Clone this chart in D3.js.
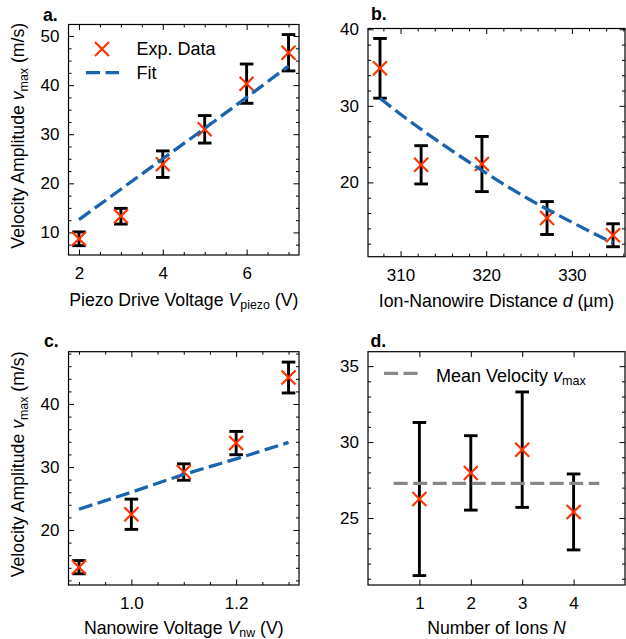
<!DOCTYPE html>
<html>
<head>
<meta charset="utf-8">
<script src="https://cdn.jsdelivr.net/npm/d3@7"></script>
<style>
  html, body { margin: 0; padding: 0; background: #fff; }
  svg { display: block; font-family: "Liberation Sans", Arial, Helvetica, sans-serif; }
</style>
</head>
<body>
<svg id="fig" width="626" height="639"></svg>
<script>
// ---- a. velocity vs piezo drive voltage ----
const piezoVoltage  = [2, 3, 4, 5, 6, 7];
const piezoVelocity = [8.7, 13.3, 23.9, 31.0, 40.3, 46.6];
const piezoError    = [1.4, 1.6, 2.7, 2.8, 4.0, 3.7];
const piezoFitX     = [2, 3, 4, 5, 6, 7];
const piezoFitV     = [12.6, 18.8, 25.0, 31.2, 37.5, 43.9];
const piezoXTicks   = [2, 4, 6];
const piezoYTicks   = [10, 20, 30, 40, 50];

// ---- b. velocity vs ion-nanowire distance ----
const distance      = [307.6, 312.4, 319.5, 327.1, 334.8];
const distVelocity  = [34.9, 22.3, 22.4, 15.35, 13.1];
const distError     = [3.9, 2.5, 3.6, 2.15, 1.5];
const distFitX      = [307.6, 310, 315, 320, 325, 330, 334.8];
const distFitV      = [31.0, 28.9, 24.9, 21.2, 17.8, 14.8, 12.1];
const distXTicks    = [310, 320, 330];
const distYTicks    = [20, 30, 40];

// ---- c. velocity vs nanowire voltage ----
const nwVoltage     = [0.9, 1.0, 1.1, 1.2, 1.3];
const nwVelocity    = [14.1, 22.5, 29.2, 33.8, 44.2];
const nwError       = [1.05, 2.4, 1.3, 1.85, 2.45];
const nwFitX        = [0.9, 1.0, 1.1, 1.2, 1.3];
const nwFitV        = [23.3, 26.0, 28.8, 31.3, 33.9];
const nwXTicks      = [1.0, 1.2];
const nwYTicks      = [20, 30, 40];

// ---- d. velocity vs number of ions ----
const ionCount      = [1, 2, 3, 4];
const ionVelocity   = [26.25, 27.97, 29.5, 25.4];
const ionError      = [5.04, 2.45, 3.8, 2.5];
const ionMeanSpan   = [0.5, 4.5];
const ionXTicks     = [1, 2, 3, 4];
const ionYTicks     = [25, 30, 35];

const RED = "#ff3300", BLUE = "#1a63ad", GREY = "#888888";
const TICK_FONT = 17, LABEL_FONT = 17.7, LEGEND_FONT = 18;
const MAJ = 5.5, MIN = 3, CROSS = 7;
const crossPath = `M${-CROSS},${-CROSS}L${CROSS},${CROSS}M${-CROSS},${CROSS}L${CROSS},${-CROSS}`;

const svg = d3.select("#fig");

function minorValues(domain, step) {
  const start = Math.ceil(domain[0] / step - 1e-9) * step;
  return d3.range(start, domain[1] + 1e-9, step).map(v => +v.toFixed(6));
}

// Writes "<before> <italic symbol>_<sub> <after>" into a text element.
function symbolLabel(sel, size, before, symbol, sub, after) {
  sel.append("tspan").text(before);
  sel.append("tspan").attr("font-style", "italic").text(symbol);
  if (sub) sel.append("tspan").attr("font-size", size * 0.7).attr("dy", 3.5).text(sub);
  if (after) sel.append("tspan").attr("dy", sub ? -3.5 : 0).text(after);
}

function panel(p) {
  const g = svg.append("g");
  const x = d3.scaleLinear().domain(p.xDomain).range([p.left, p.right]);
  const y = d3.scaleLinear().domain(p.yDomain).range([p.bottom, p.top]);

  const specs = [
    { axis: d3.axisBottom(x), t: `translate(0,${p.bottom})`, major: p.xTicks, minor: p.xMinor, fmt: p.xFmt, pad: 12 },
    { axis: d3.axisTop(x),    t: `translate(0,${p.top})`,    major: p.xTicks, minor: p.xMinor, fmt: null },
    { axis: d3.axisLeft(y),   t: `translate(${p.left},0)`,   major: p.yTicks, minor: p.yMinor, fmt: d3.format("d"), pad: 9 },
    { axis: d3.axisRight(y),  t: `translate(${p.right},0)`,  major: p.yTicks, minor: p.yMinor, fmt: null }
  ];
  specs.forEach(s => {
    if (s.minor) {
      const mg = g.append("g").attr("transform", s.t)
        .call(s.axis.tickValues(s.minor).tickSize(-MIN).tickFormat(() => ""));
      mg.select(".domain").remove();
      mg.selectAll("line").attr("stroke", "#000").attr("stroke-width", 1);
    }
    const ag = g.append("g").attr("transform", s.t)
      .call(s.axis.tickValues(s.major).tickSize(-MAJ)
        .tickPadding(s.pad || 3).tickFormat(s.fmt ? s.fmt : () => ""));
    ag.select(".domain").remove();
    ag.attr("font-size", TICK_FONT).attr("font-family", null);
    ag.selectAll("line").attr("stroke", "#000").attr("stroke-width", 1);
    ag.selectAll("text").attr("fill", "#000");
  });

  // axes frame
  g.append("rect")
    .attr("x", p.left).attr("y", p.top)
    .attr("width", p.right - p.left).attr("height", p.bottom - p.top)
    .attr("fill", "none").attr("stroke", "#000").attr("stroke-width", 1.2);

  // error bars
  const eb = g.append("g").attr("stroke", "#000").attr("stroke-width", 2.9).attr("fill", "none");
  p.xs.forEach((xv, i) => {
    const cx = x(xv), lo = y(p.vs[i] - p.es[i]), hi = y(p.vs[i] + p.es[i]);
    eb.append("line").attr("x1", cx).attr("x2", cx).attr("y1", lo).attr("y2", hi);
    eb.append("line").attr("x1", cx - 6.8).attr("x2", cx + 6.8).attr("y1", lo).attr("y2", lo);
    eb.append("line").attr("x1", cx - 6.8).attr("x2", cx + 6.8).attr("y1", hi).attr("y2", hi);
  });

  // data markers
  g.append("g").selectAll("path").data(p.xs).join("path")
    .attr("transform", (d, i) => `translate(${x(d)},${y(p.vs[i])})`)
    .attr("d", crossPath)
    .attr("stroke", RED).attr("stroke-width", 2.2).attr("fill", "none");

  // fit / reference line
  if (p.fitX) {
    g.append("path")
      .datum(p.fitX.map((xv, i) => [xv, p.fitV[i]]))
      .attr("d", d3.line().x(d => x(d[0])).y(d => y(d[1])).curve(d3.curveMonotoneX))
      .attr("fill", "none").attr("stroke", p.fitColor).attr("stroke-width", 3.3)
      .attr("stroke-dasharray", "14,5.5");
  }

  // panel letter
  g.append("text").attr("x", p.letterPos[0]).attr("y", p.letterPos[1])
    .attr("font-size", LABEL_FONT).attr("font-weight", "bold").text(p.letter);

  // x label
  const xl = g.append("text")
    .attr("x", (p.left + p.right) / 2).attr("y", p.xLabelY)
    .attr("text-anchor", "middle").attr("font-size", LABEL_FONT);
  symbolLabel(xl, LABEL_FONT, ...p.xLabel);

  // y label
  if (p.yLabel) {
    const yl = g.append("text")
      .attr("transform", `translate(24,${(p.top + p.bottom) / 2 - 4}) rotate(-90)`)
      .attr("text-anchor", "middle").attr("font-size", LABEL_FONT);
    symbolLabel(yl, LABEL_FONT, "Velocity Amplitude ", "v", "max", " (m/s)");
  }
  return { g, x, y };
}

// a.
const pa = panel({
  left: 68.5, right: 299, top: 24.5, bottom: 255,
  xDomain: [1.75, 7.25], yDomain: [5.4, 52.35],
  xTicks: piezoXTicks, xMinor: minorValues([1.75, 7.25], 0.5).filter(v => !piezoXTicks.includes(v)),
  yTicks: piezoYTicks, yMinor: minorValues([5.4, 52.35], 2.5).filter(v => !piezoYTicks.includes(v)),
  xFmt: d3.format("d"),
  xs: piezoVoltage, vs: piezoVelocity, es: piezoError,
  fitX: piezoFitX, fitV: piezoFitV, fitColor: BLUE,
  letter: "a.", letterPos: [43, 20.5],
  xLabelY: 305.5,
  xLabel: ["Piezo Drive Voltage ", "V", "piezo", " (V)"],
  yLabel: true
});

// legend for a.
{
  const lg = pa.g.append("g");
  lg.append("path").attr("transform", "translate(102,49)")
    .attr("d", crossPath)
    .attr("stroke", RED).attr("stroke-width", 2.2).attr("fill", "none");
  lg.append("text").attr("x", 136.5).attr("y", 54.5).attr("font-size", LEGEND_FONT).text("Exp. Data");
  lg.append("line").attr("x1", 86).attr("x2", 119).attr("y1", 72.7).attr("y2", 72.7)
    .attr("stroke", BLUE).attr("stroke-width", 3.3).attr("stroke-dasharray", "14,5.5");
  lg.append("text").attr("x", 136.5).attr("y", 78.7).attr("font-size", LEGEND_FONT).text("Fit");
}

// b.
panel({
  left: 368, right: 625, top: 28.5, bottom: 256.7,
  xDomain: [306.2, 336.2], yDomain: [10.3, 40.1],
  xTicks: distXTicks, xMinor: minorValues([306.2, 336.2], 2).filter(v => !distXTicks.includes(v)),
  yTicks: distYTicks, yMinor: minorValues([10.3, 40.1], 2).filter(v => !distYTicks.includes(v)),
  xFmt: d3.format("d"),
  xs: distance, vs: distVelocity, es: distError,
  fitX: distFitX, fitV: distFitV, fitColor: BLUE,
  letter: "b.", letterPos: [371, 20],
  xLabelY: 306.5,
  xLabel: ["Ion-Nanowire Distance ", "d", null, " (\u00b5m)"],
  yLabel: false
});

// c.
panel({
  left: 68.5, right: 299, top: 351.7, bottom: 585,
  xDomain: [0.88, 1.32], yDomain: [11.27, 48.3],
  xTicks: nwXTicks, xMinor: minorValues([0.88, 1.32], 0.05).filter(v => !nwXTicks.some(t => Math.abs(t - v) < 1e-6)),
  yTicks: nwYTicks, yMinor: minorValues([11.27, 48.3], 2).filter(v => !nwYTicks.includes(v)),
  xFmt: d3.format(".1f"),
  xs: nwVoltage, vs: nwVelocity, es: nwError,
  fitX: nwFitX, fitV: nwFitV, fitColor: BLUE,
  letter: "c.", letterPos: [44, 346.7],
  xLabelY: 633.5,
  xLabel: ["Nanowire Voltage ", "V", "nw", " (V)"],
  yLabel: true
});

// d.
const ionMean = d3.mean(ionVelocity);
const pd = panel({
  left: 368, right: 625, top: 351.7, bottom: 585,
  xDomain: [0, 5], yDomain: [20.59, 35.95],
  xTicks: ionXTicks, xMinor: null,
  yTicks: ionYTicks, yMinor: minorValues([20.59, 35.95], 1).filter(v => !ionYTicks.includes(v)),
  xFmt: d3.format("d"),
  xs: ionCount, vs: ionVelocity, es: ionError,
  fitX: ionMeanSpan, fitV: [ionMean, ionMean], fitColor: GREY,
  letter: "d.", letterPos: [370.5, 346.7],
  xLabelY: 633.5,
  xLabel: ["Number of Ions ", "N", null, null],
  yLabel: false
});

// legend for d.
{
  const lg = pd.g.append("g");
  lg.append("line").attr("x1", 384).attr("x2", 420).attr("y1", 373.3).attr("y2", 373.3)
    .attr("stroke", GREY).attr("stroke-width", 3.3).attr("stroke-dasharray", "14,5.5");
  const t = lg.append("text").attr("x", 436).attr("y", 381.7).attr("font-size", LEGEND_FONT);
  symbolLabel(t, LEGEND_FONT, "Mean Velocity ", "v", "max", null);
}
</script>
</body>
</html>
